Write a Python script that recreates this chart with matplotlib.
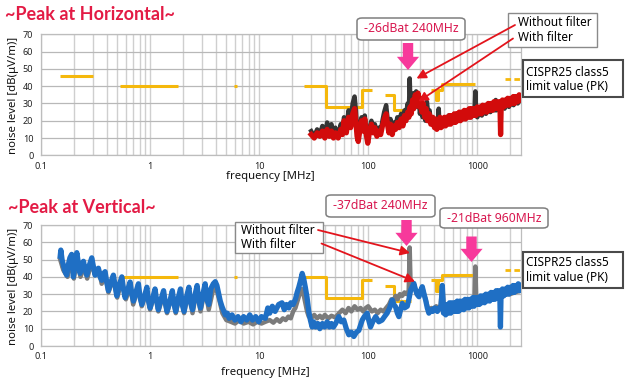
import matplotlib
matplotlib.use('Agg')
from matplotlib import pyplot as plt
from matplotlib.patches import FancyArrowPatch, FancyBboxPatch
from matplotlib.ticker import NullFormatter

# ---- data (frequency in MHz, level in dB(uV/m)) ----
x_ticks = [0.1, 1, 10, 100, 1000]
x_tick_labels = ['0.1', '1', '10', '100', '1000']
y_ticks = [0, 10, 20, 30, 40, 50, 60, 70]

# CISPR25 class5 peak limit, one entry per drawn path
limit_paths = [
    ([0.15, 0.3], [46, 46]),
    ([0.53, 1.8], [40, 40]),
    ([5.9, 6.2], [40, 40]),
    ([26, 41, 41, 88, 88, 108], [40, 40, 28, 28, 38, 38]),
    ([142, 174, 174, 245], [35, 35, 26, 26]),
    ([380, 420, 420, 440, 440, 470, 470, 960], [38, 38, 32, 32, 38, 38, 41, 41]),
    ([1447, 1494], [28, 28]),
]
limit_dashed = ([1803, 2500], [44, 44])

# horizontal polarisation
h_without_f = [30, 32, 34, 36, 38, 40, 42, 44, 46, 48, 50, 53, 56, 58, 60, 63, 66, 69, 72, 75,
               77, 79, 81, 84, 87, 90, 93, 96, 99, 103, 107, 111, 115, 120, 125, 130, 135, 140,
               146, 150, 155, 160, 166, 172, 178, 185, 192, 200, 208, 215, 222, 230, 236, 240,
               244, 250, 256, 262, 268, 275, 282, 290, 298, 306, 315, 325, 335, 345, 355, 365,
               375, 390, 405, 420, 435, 443, 450, 465, 480, 500, 520, 545, 570, 600, 630, 660,
               700, 740, 780, 820, 860, 900, 940, 960, 975, 1000, 1050, 1100, 1150, 1200, 1260,
               1320, 1380, 1440, 1475, 1500, 1560, 1620, 1700, 1780, 1850, 1950, 2050, 2150,
               2250, 2350, 2500]
h_without_db = [14, 11, 15, 12, 17, 12, 19, 14, 18, 12, 16, 11, 18, 14, 22, 15, 26, 20, 30, 34,
                26, 14, 9, 18, 22, 17, 23, 14, 8, 16, 20, 15, 18, 13, 16, 14, 20, 25,
                29, 22, 16, 21, 14, 19, 17, 22, 18, 24, 20, 26, 24, 30, 26, 44.5,
                30, 34, 28, 36, 30, 37, 28, 33, 24, 30, 22, 28, 20, 31, 24, 26,
                20, 22, 18, 21, 18, 27, 17, 21, 18, 22, 19, 23, 20, 22, 20, 23,
                21, 24, 22, 25, 22, 25, 23, 37, 24, 22, 25, 23, 26, 24, 27,
                25, 28, 26, 32, 26, 28, 26, 28, 27, 30, 28, 31, 29,
                32, 30, 33]
h_with_f = [30, 32, 34, 36, 38, 40, 42, 44, 46, 48, 50, 53, 56, 58, 60, 63, 66, 69, 72, 75,
            77, 79, 81, 84, 87, 90, 93, 96, 99, 103, 107, 111, 115, 120, 125, 130, 135, 140,
            146, 150, 155, 160, 166, 172, 178, 185, 192, 200, 208, 215, 222, 230, 236, 242,
            248, 255, 262, 270, 278, 286, 294, 302, 310, 320, 330, 340, 350, 362, 375, 390,
            405, 415, 425, 435, 445, 455, 465, 475, 487, 500, 512, 525, 540, 555, 570, 585,
            600, 615, 630, 648, 665, 683, 700, 720, 740, 760, 780, 800, 822, 845, 870, 895,
            920, 945, 970, 1000, 1030, 1060, 1090, 1120, 1155, 1190, 1225, 1260, 1300, 1340,
            1380, 1420, 1460, 1500, 1545, 1590, 1615, 1635, 1655, 1700, 1750, 1800, 1850, 1900,
            1960, 2020, 2080, 2140, 2200, 2270, 2340, 2420, 2500]
h_with_db = [12, 10, 13, 11, 14, 10, 15, 11, 14, 10, 13, 10, 15, 12, 20, 13, 22, 16, 24, 27,
             20, 11, 8, 15, 20, 14, 21, 12, 7, 14, 18, 13, 16, 11, 14, 12, 17, 21,
             24, 18, 13, 18, 12, 17, 15, 19, 16, 21, 17, 23, 20, 25, 22, 28,
             24, 32, 27, 35, 29, 36, 28, 33, 25, 30, 22, 27, 20, 24, 18, 22,
             16, 21, 15, 20, 16, 22, 16, 21, 17, 22, 17, 22, 18, 23, 18, 23,
             19, 24, 19, 24, 20, 25, 20, 25, 21, 26, 21, 26, 22, 27, 22, 27,
             23, 27, 23, 28, 24, 28, 24, 29, 25, 29, 25, 30, 26, 30,
             26, 31, 27, 31, 27, 31, 28, 12, 28, 32, 28, 32, 29, 33,
             29, 33, 30, 34, 30, 34, 31, 35, 32]

# vertical polarisation
v_without_f = [0.15, 0.16, 0.175, 0.19, 0.2, 0.215, 0.23, 0.25, 0.265, 0.29, 0.31, 0.34, 0.36,
               0.39, 0.415, 0.46, 0.5, 0.55, 0.6, 0.66, 0.7, 0.78, 0.84, 0.93, 1.0, 1.11, 1.19,
               1.33, 1.43, 1.6, 1.72, 1.9, 2.05, 2.27, 2.45, 2.7, 2.9, 3.2, 3.45, 3.8, 4.0, 4.3,
               4.6, 5.0, 5.5, 6.0, 6.6, 7.2, 8.0, 8.8, 9.6, 10.5, 11.4, 12.5, 13.5, 14.5, 15.5,
               16.5, 17.5, 18.5, 19.5, 20.5, 21.5, 22.5, 23.5, 24.5, 25.5, 26.5, 27.5, 28.5, 30,
               32, 34, 36, 38, 40, 43, 46, 50, 54, 58, 62, 66, 70, 75, 80, 85, 90, 95, 100, 108,
               115, 122, 130, 138, 146, 155, 163, 170, 178, 186, 195, 205, 215, 225, 235, 240,
               245, 255, 262, 270, 280, 292, 302, 313, 325, 336, 348, 360, 380, 400, 420, 440,
               460, 478, 495, 520, 560, 600, 650, 700, 760, 820, 880, 940, 960, 980, 1050, 1120,
               1200, 1300, 1400, 1500, 1700, 1850, 2000, 2200, 2500]
v_without_db = [50, 44, 40, 50, 39, 51, 40, 46, 39, 48, 42, 44, 36,
                41, 31, 39, 28, 38, 27, 35, 24, 34, 23, 32, 21, 31, 20,
                30, 19, 30, 19, 31, 19, 32, 19, 33, 20, 33, 21, 33, 34, 27,
                19, 15, 14, 13, 15, 13, 14, 12.5, 14, 13, 14, 15, 13.5, 15.5, 14,
                16, 15, 17, 16, 20, 22, 26, 30, 33, 30, 25, 20, 17, 16,
                18, 16, 17.5, 16, 18, 16, 17.5, 16.5, 19, 21, 19, 22, 20, 23, 21, 22, 20, 22, 23, 20,
                21, 19, 21, 20, 22, 24, 27, 26, 29, 27, 30, 29, 31, 30, 32, 57,
                33, 35, 36, 33, 30, 29, 32, 34, 30, 27, 23, 20, 22, 21, 23, 21,
                23, 35, 22, 21, 23, 22, 24, 23, 25, 24, 25, 25, 46, 25, 26, 27,
                26, 27.5, 27, 28, 29, 30, 30, 31, 32]
v_with_f = [0.15, 0.152, 0.156, 0.16, 0.166, 0.172, 0.178, 0.184, 0.191, 0.195, 0.198, 0.205,
            0.213, 0.22, 0.228, 0.236, 0.245, 0.254, 0.263, 0.275, 0.292, 0.3, 0.313, 0.325,
            0.336, 0.348, 0.361, 0.375, 0.387, 0.4, 0.415, 0.438, 0.461, 0.478, 0.495, 0.52,
            0.551, 0.57, 0.59, 0.62, 0.656, 0.68, 0.704, 0.74, 0.782, 0.81, 0.841, 0.89, 0.935,
            0.96, 1.0, 1.05, 1.11, 1.15, 1.19, 1.26, 1.33, 1.38, 1.43, 1.52, 1.6, 1.66, 1.72,
            1.8, 1.9, 1.97, 2.05, 2.15, 2.27, 2.35, 2.45, 2.57, 2.7, 2.8, 2.9, 3.05, 3.2, 3.3,
            3.45, 3.6, 3.8, 3.96, 4.1, 4.25, 4.4, 4.57, 4.75, 4.9, 5.1, 5.3, 5.64, 6.0, 6.4, 6.8,
            7.2, 7.7, 8.2, 8.7, 9.3, 9.9, 10.5, 11.4, 12.0, 12.5, 13.2, 14.0, 15.1, 16.2, 17.0,
            17.8, 18.7, 19.5, 20.5, 21.5, 22.3, 23.1, 24.0, 24.8, 25.6, 26.5, 27.5, 28.5, 29.5,
            30.6, 31.5, 32.9, 34.5, 36, 38, 40, 42, 44, 46, 48, 50.3, 53.7, 56.5, 59.7, 63,
            66.4, 70, 73.8, 78, 82, 85, 88.1, 92, 97.9, 101, 105, 110, 117, 125, 134, 141, 149,
            157, 166, 172, 178, 185, 191, 198, 205, 215, 228, 236, 245, 252, 262, 270, 280, 292,
            302, 313, 325, 336, 348, 360, 375, 390, 405, 415, 430, 450, 465, 478, 490, 500, 513,
            527, 541, 556, 571, 587, 603, 620, 637, 655, 673, 692, 711, 731, 751, 772, 793, 815,
            838, 861, 885, 910, 935, 961, 988, 1015, 1043, 1072, 1102, 1133, 1165, 1197, 1230,
            1265, 1300, 1336, 1373, 1411, 1450, 1490, 1532, 1575, 1610, 1630, 1650, 1700, 1750,
            1800, 1850, 1900, 1955, 2010, 2065, 2125, 2185, 2245, 2310, 2375, 2440, 2500]
v_with_db = [52, 55.5, 50, 47, 43, 41, 47, 51, 53, 46, 40, 47,
             54, 48, 42, 47, 49, 44, 41, 46, 51, 47, 41, 44,
             45, 40, 38, 42, 43, 37, 32, 37, 41, 35, 29, 35,
             40, 33, 28, 32, 37, 30, 26, 31, 36, 28, 24, 29, 34,
             27, 22, 27, 33, 26, 21, 27, 32, 25, 20, 26, 32, 24, 20,
             27, 33, 24, 20, 28, 34, 25, 21, 29, 35, 26, 22, 30, 36, 27,
             24, 33, 36, 37.2, 35, 30.5, 26, 22.7, 20, 18, 19, 16, 18, 15, 17, 14,
             17, 15, 18, 15, 17, 14, 17, 16, 22, 19, 23, 20, 24, 25, 21,
             24, 22, 25, 24, 27, 31, 34, 38, 42, 39, 34, 28, 20, 15,
             11, 14, 11, 13, 10, 13, 11, 14, 11, 13, 11, 13, 17, 14, 15, 10,
             6.5, 8, 5.5, 8, 9, 12, 15, 17, 19, 15, 11, 14, 17, 14, 15, 17, 19,
             22, 26.6, 24, 22.7, 19, 17, 21, 24.7, 22, 23, 27, 32.4, 34, 36.2, 33, 30, 28.5,
             32, 34.3, 30, 26.6, 22, 19, 21, 20, 22, 21.8, 20, 22, 23, 35, 19, 24, 18,
             24, 19, 25, 19, 25, 20, 25, 20, 26, 20, 26, 21, 26, 21, 27, 22,
             27, 22, 27, 23, 28, 23, 28, 24, 28, 24, 29, 25, 29, 25, 30, 26,
             30, 26, 31, 27, 31, 27, 32, 28, 32, 28, 11, 29, 33, 29,
             33, 30, 34, 30, 34, 31, 35, 31, 35, 32, 36, 32, 35]

# ---- styling ----
W, H = 626, 382
LIMIT_COLOR = '#f5b80c'
TITLE_COLOR = '#e31b45'
PINK = '#f7399b'
ARROW_RED = '#e3141c'
FONT = ['Noto Sans', 'DejaVu Sans']

plt.rcParams['font.family'] = FONT

fig = plt.figure(figsize=(W / 100, H / 100), dpi=100)


def fx(x):
  return x / W


def fy(y):
  return 1 - y / H


def setup_axes(ax):
  ax.set_xscale('log')
  ax.set_xlim(0.1, 2500)
  ax.set_ylim(0, 70)
  ax.set_yticks(y_ticks)
  ax.set_xticks(x_ticks)
  ax.set_xticklabels(x_tick_labels)
  ax.xaxis.set_minor_formatter(NullFormatter())
  ax.tick_params(which='both', length=0, labelsize=6.5, colors='#222222')
  ax.tick_params(axis='x', pad=4.5)
  ax.tick_params(axis='y', pad=5.5)
  ax.grid(True, which='both', axis='x', color='#cfcfcf', lw=1.0)
  ax.grid(True, which='major', axis='y', color='#b8b8b8', lw=0.9)
  ax.set_axisbelow(True)
  for s in ax.spines.values():
    s.set_color('#bdbdbd')
    s.set_linewidth(0.9)


def draw_limit(ax):
  for f, lv in limit_paths:
    ax.plot(f, lv, color=LIMIT_COLOR, lw=2.2, solid_capstyle='butt', zorder=2)
  ax.plot(limit_dashed[0], limit_dashed[1], color=LIMIT_COLOR, lw=2.0,
          ls=(0, (2, 1.2)), zorder=2)


def text_box(x0, y0, x1, y1, rounded, edge, lw):
  style = 'round,pad=0,rounding_size=0.008' if rounded else 'square,pad=0'
  box = FancyBboxPatch((fx(x0), fy(y1)), fx(x1) - fx(x0), fy(y0) - fy(y1),
                       boxstyle=style, transform=fig.transFigure,
                       facecolor='white', edgecolor=edge, lw=lw, zorder=5)
  fig.add_artist(box)


def pink_arrow(x, y0, y1):
  arr = FancyArrowPatch((fx(x), fy(y0)), (fx(x), fy(y1)), transform=fig.transFigure,
                        arrowstyle='simple,head_length=0.95,head_width=1.6,tail_width=0.75',
                        mutation_scale=10, color=PINK, lw=0, shrinkA=0, shrinkB=0, zorder=6)
  fig.add_artist(arr)


def red_arrow(x0, y0, x1, y1):
  arr = FancyArrowPatch((fx(x0), fy(y0)), (fx(x1), fy(y1)), transform=fig.transFigure,
                        arrowstyle='-|>,head_length=0.55,head_width=0.28',
                        mutation_scale=10, color=ARROW_RED, lw=1.3,
                        shrinkA=0, shrinkB=0, zorder=7)
  fig.add_artist(arr)


# ---- top: horizontal ----
ax1 = fig.add_axes([fx(41), fy(155.3), fx(520.7) - fx(41), fy(34.3) - fy(155.3)])
setup_axes(ax1)
draw_limit(ax1)
ax1.plot(h_without_f, h_without_db, color='#353535', lw=3.2, zorder=3)
ax1.plot(h_with_f, h_with_db, color='#d20b0b', lw=3.8, zorder=4)

# ---- bottom: vertical ----
ax2 = fig.add_axes([fx(41), fy(346), fx(520.7) - fx(41), fy(225) - fy(346)])
setup_axes(ax2)
draw_limit(ax2)
ax2.plot(v_without_f, v_without_db, color='#7b7b7b', lw=3.2, zorder=3)
ax2.plot(v_with_f, v_with_db, color='#1f6fc4', lw=3.8, zorder=4)

# ---- labels ----
fig.text(fx(5), fy(14.5), '~Peak at Horizontal~', color=TITLE_COLOR, fontsize=13,
         fontweight='bold', family=['Lato', 'DejaVu Sans'], va='center', ha='left')
fig.text(fx(8), fy(207.5), '~Peak at Vertical~', color=TITLE_COLOR, fontsize=13,
         fontweight='bold', family=['Lato', 'DejaVu Sans'], va='center', ha='left')

for yc in (95, 286):
  fig.text(fx(14), fy(yc), 'noise level [dB(μV/m)]', rotation=90, fontsize=8.2,
           va='center', ha='center', color='#111111')
fig.text(fx(270), fy(177), 'frequency [MHz]', fontsize=8.2, va='center', ha='center',
         color='#111111')
fig.text(fx(265), fy(372.5), 'frequency [MHz]', fontsize=8.2, va='center', ha='center',
         color='#111111')

# top annotations
text_box(357, 18, 465, 40, True, '#7f7f7f', 1.1)
fig.text(fx(411), fy(29), '-26dBat 240MHz', color='#d8174f', fontsize=8.8,
         va='center', ha='center', zorder=8)
pink_arrow(408, 43, 70)

text_box(508, 13, 597, 47, False, '#8a8a8a', 1.0)
fig.text(fx(518), fy(23), 'Without filter', fontsize=8.5, va='center', ha='left', zorder=8)
fig.text(fx(518), fy(37.5), 'With filter', fontsize=8.5, va='center', ha='left', zorder=8)
red_arrow(515, 25, 416.5, 78.5)
red_arrow(513, 38.5, 418.5, 101.5)

text_box(522.7, 60, 623, 97, False, '#4a4a4a', 1.5)
fig.text(fx(526.5), fy(72), 'CISPR25 class5', fontsize=8.5, va='center', ha='left', zorder=8)
fig.text(fx(526.5), fy(86.5), 'limit value (PK)', fontsize=8.5, va='center', ha='left', zorder=8)

# bottom annotations
text_box(235, 222, 323, 253, False, '#8a8a8a', 1.0)
fig.text(fx(241), fy(230.5), 'Without filter', fontsize=8.5, va='center', ha='left', zorder=8)
fig.text(fx(241), fy(244.5), 'With filter', fontsize=8.5, va='center', ha='left', zorder=8)
red_arrow(318, 230, 410, 253)
red_arrow(321.5, 243.5, 415, 281.5)

text_box(326, 195, 435, 217, True, '#7f7f7f', 1.1)
fig.text(fx(380.5), fy(206), '-37dBat 240MHz', color='#d8174f', fontsize=8.8,
         va='center', ha='center', zorder=8)
pink_arrow(406.5, 220, 246)

text_box(440, 208, 548, 228, True, '#7f7f7f', 1.1)
fig.text(fx(494), fy(218), '-21dBat 960MHz', color='#d8174f', fontsize=8.8,
         va='center', ha='center', zorder=8)
pink_arrow(471.5, 236.5, 262)

text_box(522.7, 251.7, 623, 288.3, False, '#4a4a4a', 1.5)
fig.text(fx(526.5), fy(263), 'CISPR25 class5', fontsize=8.5, va='center', ha='left', zorder=8)
fig.text(fx(526.5), fy(277.5), 'limit value (PK)', fontsize=8.5, va='center', ha='left', zorder=8)

fig.savefig('out.png', dpi=100)
